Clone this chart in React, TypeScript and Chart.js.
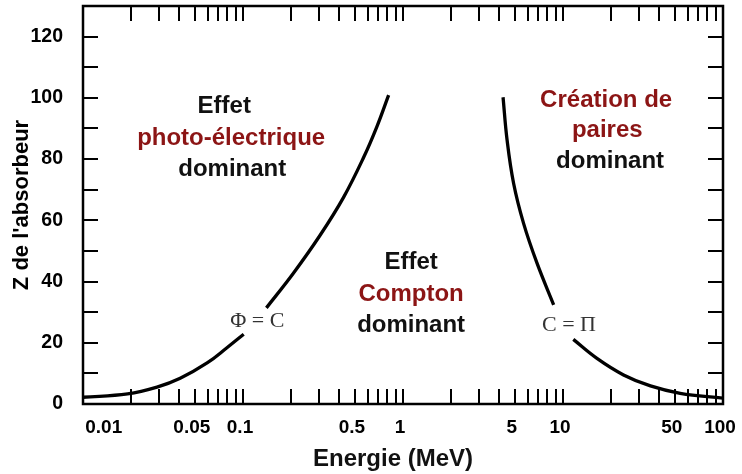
import React, { useEffect, useRef } from 'react';
import { Chart, registerables } from 'chart.js';

Chart.register(...registerables);

// Photo-electric / Compton boundary (Φ = C), split around its label
const peLowerE = [0.01, 0.019, 0.029, 0.0405, 0.06, 0.079, 0.101];
const peLowerZ = [2.2, 3.3, 5.5, 8.4, 13.5, 18.3, 22.8];
const peUpperE = [0.14, 0.207, 0.304, 0.425, 0.567, 0.688, 0.813];
const peUpperZ = [31.4, 42.8, 55.2, 67.5, 80.5, 90.7, 100.9];

// Compton / pair-creation boundary (C = Π), split around its label
const ppUpperE = [4.22, 4.47, 4.91, 5.67, 6.88, 8.74];
const ppUpperZ = [100.2, 86.3, 72.1, 59, 46, 32.4];
const ppLowerE = [11.6, 16.3, 23.9, 35.2, 54, 100];
const ppLowerZ = [21.1, 14.9, 9.5, 5.9, 3.5, 1.9];

// Axis ticks
const xTickValues = [
  0.01, 0.02, 0.03, 0.04, 0.05, 0.06, 0.07, 0.08, 0.09,
  0.1, 0.2, 0.3, 0.4, 0.5, 0.6, 0.7, 0.8, 0.9,
  1, 2, 3, 4, 5, 6, 7, 8, 9,
  10, 20, 30, 40, 50, 60, 70, 80, 90, 100,
];
const xLabeledTicks = [0.01, 0.05, 0.1, 0.5, 1, 5, 10, 50, 100];
const xTickText = ['0.01', '0.05', '0.1', '0.5', '1', '5', '10', '50', '100'];
const yTickValues = [0, 10, 20, 30, 40, 50, 60, 70, 80, 90, 100, 110, 120, 130];
const yLabeledTicks = [0, 20, 40, 60, 80, 100, 120];

const xTitle = 'Energie (MeV)';
const yTitle = "Z de l'absorbeur";

const RED = '#8c1515';
const BLACK = '#111111';

// Region labels, placed in data coordinates (energy, Z)
const regionTexts = ['Effet', 'photo-électrique', 'dominant', 'Effet', 'Compton', 'dominant', 'Création de', 'paires', 'dominant'];
const regionE = [0.0763, 0.0843, 0.0857, 1.124, 1.124, 1.124, 18.6, 18.9, 19.7];
const regionZ = [97.1, 86.6, 76.5, 46.4, 35.9, 25.8, 99.3, 89.5, 79.4];
const regionRed = [false, true, false, false, true, false, true, true, false];

const curveLabels = ['Φ = C', 'C = Π'];
const curveLabelE = [0.1228, 10.9];
const curveLabelZ = [27.1, 25.8];

const SANS = '"Liberation Sans", Arial, Helvetica, sans-serif';
const SERIF = '"Liberation Serif", "Times New Roman", serif';

const toPts = (es: number[], zs: number[]) => es.map((e, i) => ({ x: e, y: zs[i] }));

const framePlugin = {
  id: 'frameAndLabels',
  afterDraw(chart: any) {
    const { ctx, chartArea } = chart;
    const { left, right, top, bottom } = chartArea;
    const xs = chart.scales.x;
    const ys = chart.scales.y;
    const TL = 15;
    ctx.save();
    ctx.strokeStyle = '#000';
    ctx.lineWidth = 2;
    ctx.beginPath();
    xTickValues.forEach((v) => {
      const px = Math.round(xs.getPixelForValue(v));
      ctx.moveTo(px, bottom);
      ctx.lineTo(px, bottom - TL);
      ctx.moveTo(px, top);
      ctx.lineTo(px, top + TL);
    });
    yTickValues.forEach((v) => {
      const py = Math.round(ys.getPixelForValue(v));
      ctx.moveTo(left, py);
      ctx.lineTo(left + TL, py);
      ctx.moveTo(right, py);
      ctx.lineTo(right - TL, py);
    });
    ctx.stroke();
    ctx.lineWidth = 2.5;
    ctx.strokeRect(left, top, right - left, bottom - top);

    ctx.textAlign = 'center';
    ctx.textBaseline = 'middle';
    ctx.font = `bold 24px ${SANS}`;
    regionTexts.forEach((t, i) => {
      ctx.fillStyle = regionRed[i] ? RED : BLACK;
      ctx.fillText(t, xs.getPixelForValue(regionE[i]), ys.getPixelForValue(regionZ[i]));
    });
    ctx.font = `22px ${SERIF}`;
    ctx.fillStyle = '#333';
    curveLabels.forEach((t, i) => {
      ctx.fillText(t, xs.getPixelForValue(curveLabelE[i]), ys.getPixelForValue(curveLabelZ[i]));
    });

    ctx.font = `bold 24px ${SANS}`;
    ctx.fillStyle = BLACK;
    ctx.fillText(xTitle, (left + right) / 2 - 10, bottom + 55);
    ctx.restore();
  },
};

export default function App() {
  const ref = useRef<HTMLCanvasElement | null>(null);
  useEffect(() => {
    document.body.style.margin = '0';
    const canvas = ref.current;
    if (!canvas) return;
    const line = (data: any[]) => ({
      data,
      borderColor: '#000',
      borderWidth: 3.3,
      pointRadius: 0,
      fill: false,
      tension: 0.4,
    });
    const chart = new Chart(canvas, {
      type: 'line',
      data: {
        datasets: [
          line(toPts(peLowerE, peLowerZ)),
          line(toPts(peUpperE, peUpperZ)),
          line(toPts(ppUpperE, ppUpperZ)),
          line(toPts(ppLowerE, ppLowerZ)),
        ],
      },
      options: {
        animation: false,
        responsive: false,
        devicePixelRatio: 1,
        layout: { padding: { top: 6, right: 19, left: 0, bottom: 0 } },
        plugins: { legend: { display: false }, tooltip: { enabled: false } },
        scales: {
          x: {
            type: 'logarithmic',
            min: 0.01,
            max: 100,
            grid: { display: false },
            border: { display: false },
            afterBuildTicks: (s: any) => {
              s.ticks = xTickValues.map((v) => ({ value: v }));
            },
            afterFit: (s: any) => {
              s.height = 70;
              s.paddingLeft = 0;
              s.paddingRight = 0;
            },
            ticks: {
              autoSkip: false,
              maxRotation: 0,
              minRotation: 0,
              padding: 4,
              labelOffset: -3,
              color: '#000',
              font: { family: SANS, size: 19, weight: 'bold' },
              callback: (value: any) => {
                const i = xLabeledTicks.indexOf(Number(value));
                if (i < 0) return '';
                return i === 0 ? '         ' + xTickText[i] : xTickText[i];
              },
            },
          },
          y: {
            type: 'linear',
            min: 0,
            max: 130,
            grid: { display: false },
            border: { display: false },
            afterBuildTicks: (s: any) => {
              s.ticks = yTickValues.map((v) => ({ value: v }));
            },
            afterFit: (s: any) => {
              s.width = 83;
              s.paddingTop = 0;
              s.paddingBottom = 0;
            },
            ticks: {
              autoSkip: false,
              padding: 12,
              color: '#000',
              font: { family: SANS, size: 19.5, weight: 'bold' },
              callback: (value: any) => (yLabeledTicks.includes(Number(value)) ? String(value) : ''),
            },
            title: {
              display: true,
              text: yTitle,
              color: '#000',
              font: { family: SANS, size: 22, weight: 'bold' },
              padding: { top: 9, bottom: 0 },
            },
          },
        },
      },
      plugins: [framePlugin],
    });
    return () => chart.destroy();
  }, []);
  return (
    <div style={{ width: 742, height: 474, background: '#fff' }}>
      <canvas ref={ref} width={742} height={474} style={{ display: 'block', width: 742, height: 474 }} />
    </div>
  );
}
